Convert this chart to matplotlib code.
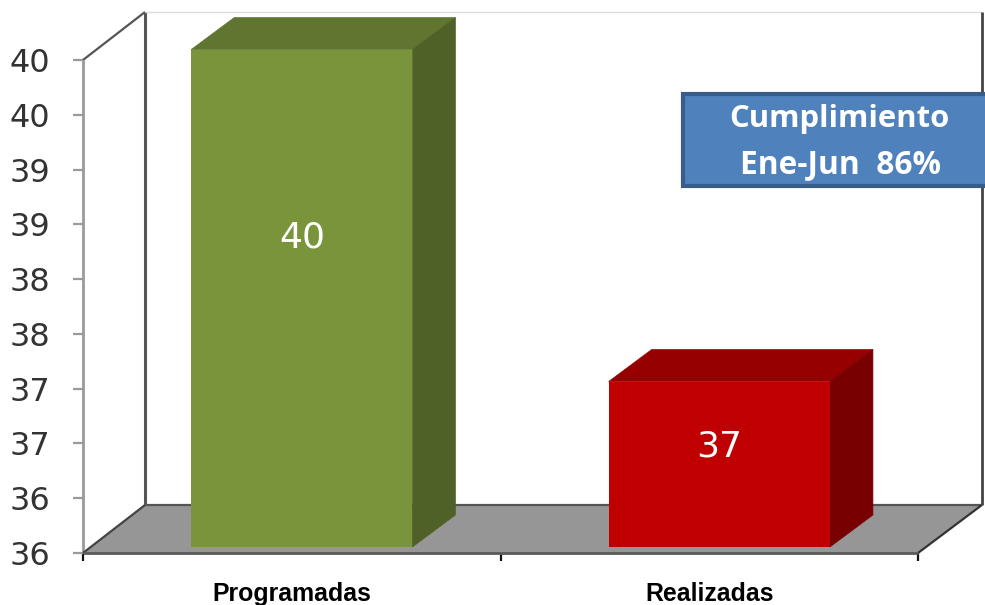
#!/usr/bin/env python
"""Pseudo-3D bar chart: actividades programadas vs realizadas."""

import matplotlib

matplotlib.use("Agg")
import matplotlib.pyplot as plt
from matplotlib.patches import Polygon, Rectangle

categories = ["Programadas", "Realizadas"]
values = [40.54, 37.51]
value_labels = ["40", "37"]
tick_values = [36.0, 36.5, 37.0, 37.5, 38.0, 38.5, 39.0, 39.5, 40.0, 40.5]
tick_labels = ["36", "36", "37", "37", "38", "38", "39", "39", "40", "40"]
box_lines = ["Cumplimiento", "Ene-Jun  86%"]

W, H = 985, 605
FRONT_COLORS = ["#7A943C", "#C00000"]
TOP_COLORS = ["#5F7530", "#960000"]
SIDE_COLORS = ["#4F6126", "#790000"]
BAR_WIDTH = 0.53
# oblique depth, in data units
WALL_DX, WALL_DY = 0.1485, 0.438
BACK_RIGHT = 2.153
BAR_DX, BAR_DY = 0.103, 0.292
GAP_DX, GAP_DY = 0.024, 0.055
Y0 = 36.0
Y1 = 40.5


def poly(ax, pts, color, z):
    ax.add_patch(Polygon(pts, closed=True, fc=color, ec=color, lw=0.5, zorder=z, clip_on=False))


def edge(ax, xs, ys, color, lw=1.6, z=2):
    ax.plot(xs, ys, color=color, lw=lw, zorder=z, clip_on=False, solid_capstyle="butt")


fig = plt.figure(figsize=(W / 100, H / 100), dpi=100, facecolor="white")
ax = fig.add_axes([83 / W, 1 - 553 / H, (918 - 83) / W, (553 - 60) / H])
ax.set_xlim(0, 2)
ax.set_ylim(Y0, Y1)
ax.patch.set_visible(False)
for s in ax.spines.values():
    s.set_visible(False)

# floor
poly(ax, [(0, Y0), (2, Y0), (BACK_RIGHT, Y0 + WALL_DY), (WALL_DX, Y0 + WALL_DY)], "#969696", 1)

# wall edges
back_top = Y1 + WALL_DY
edge(ax, [0, 0], [Y0, Y1], "#9A9A9A", lw=2)
edge(ax, [WALL_DX, WALL_DX], [Y0 + WALL_DY, back_top], "#555555", lw=2.2)
edge(ax, [0, WALL_DX], [Y1, back_top], "#555555")
edge(ax, [0, WALL_DX], [Y0, Y0 + WALL_DY], "#444444")
edge(ax, [WALL_DX, BACK_RIGHT], [back_top, back_top], "#DDDDDD", lw=1)
edge(ax, [BACK_RIGHT, BACK_RIGHT], [Y0 + WALL_DY, back_top], "#444444", lw=2)
edge(ax, [WALL_DX, BACK_RIGHT], [Y0 + WALL_DY, Y0 + WALL_DY], "#555555")
edge(ax, [0, 2], [Y0, Y0], "#5A5A5A", lw=2, z=5)
edge(ax, [2, BACK_RIGHT], [Y0, Y0 + WALL_DY], "#333333")

# bars
for i, v in enumerate(values):
    left = i + 0.5 - BAR_WIDTH / 2 + GAP_DX
    right = left + BAR_WIDTH
    base = Y0 + GAP_DY
    ax.add_patch(Rectangle((left, base), BAR_WIDTH, v - Y0, fc=FRONT_COLORS[i], ec="none", zorder=4, clip_on=False))
    poly(ax, [(left, v + GAP_DY), (right, v + GAP_DY), (right + BAR_DX, v + GAP_DY + BAR_DY),
              (left + BAR_DX, v + GAP_DY + BAR_DY)], TOP_COLORS[i], 3)
    poly(ax, [(right, base), (right + BAR_DX, base + BAR_DY), (right + BAR_DX, v + GAP_DY + BAR_DY),
              (right, v + GAP_DY)], SIDE_COLORS[i], 3)

# value labels, placed as in the original rather than mid-bar
label_y = [38.88, 36.97]
for i, txt in enumerate(value_labels):
    ax.text(i + 0.5 + GAP_DX, label_y[i], txt, color="white", fontsize=26, ha="center", va="center", zorder=6)

ax.set_yticks(tick_values)
ax.set_yticklabels(tick_labels, fontsize=23, color="#333333")
ax.tick_params(axis="y", length=7.5, width=1.6, color="#9A9A9A", pad=16)
ax.set_xticks([0, 1, 2])
ax.set_xticklabels([])
ax.tick_params(axis="x", length=5.5, width=1.6, color="#111111")

# category labels sit between the ticks
for i, cat in enumerate(categories):
    ax.annotate(cat, xy=(i + 0.5, 0), xycoords=("data", "axes fraction"), xytext=(0, -21),
                textcoords="offset points", ha="center", va="top", fontsize=17.9,
                fontweight="bold", family="Liberation Sans", color="black", annotation_clip=False)

# callout box, runs off the right edge
fig.add_artist(Rectangle((683 / W, 1 - 186 / H), 320 / W, 92 / H, transform=fig.transFigure,
                         fc="#4F81BD", ec="#385D8A", lw=3, zorder=10, clip_on=False))
fig.text(839 / W, 1 - 119 / H, box_lines[0], color="white", fontsize=22.3, fontweight="bold",
         family="Open Sans", ha="center", va="center", zorder=11)
fig.text(840 / W, 1 - 165 / H, box_lines[1], color="white", fontsize=22.8, fontweight="bold",
         family="Open Sans", ha="center", va="center", zorder=11)

fig.savefig("out.png", dpi=100)
plt.close(fig)
